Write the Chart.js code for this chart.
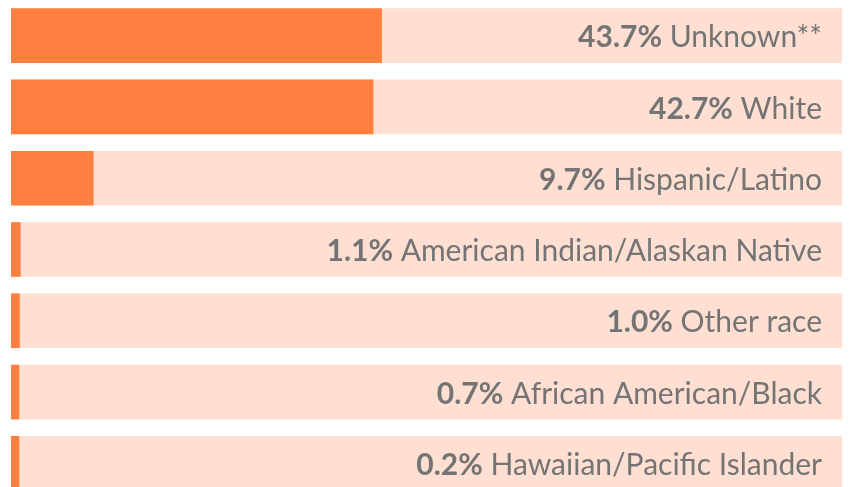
<!DOCTYPE html>
<html>
<head>
<meta charset="utf-8">
<script src="https://cdn.jsdelivr.net/npm/chart.js@4.4.0/dist/chart.umd.min.js"></script>
<style>
  html, body { margin: 0; padding: 0; background: #fff; overflow: hidden; }
  #wrap { width: 853px; height: 499px; position: relative; }
</style>
</head>
<body>
<div id="wrap"><canvas id="myChart"></canvas></div>
<script>
const categories = [
    'Unknown**',
    'White',
    'Hispanic/Latino',
    'American Indian/Alaskan Native',
    'Other race',
    'African American/Black',
    'Hawaiian/Pacific Islander'
];

// percentages
const valores = [43.7, 42.7, 9.7, 1.1, 1.0, 0.7, 0.2];
const percentLabels = ['43.7%', '42.7%', '9.7%', '1.1%', '1.0%', '0.7%', '0.2%'];

// full width of the background track
const trackMax = 98;
const track = categories.map(() => trackMax);

const FONT = "Lato, 'Open Sans', sans-serif";

// draws "xx.x% Category" right aligned inside each track
const labelPlugin = {
    id: 'rowLabels',
    afterDatasetsDraw(chart) {
        const ctx = chart.ctx;
        const meta = chart.getDatasetMeta(0);
        const right = chart.chartArea.right - 20;
        ctx.save();
        ctx.textBaseline = 'middle';
        ctx.fillStyle = '#747474';
        meta.data.forEach((bar, i) => {
            const y = bar.y + 2;
            ctx.font = '30px ' + FONT;
            const name = ' ' + categories[i];
            const wName = ctx.measureText(name).width;
            ctx.textAlign = 'right';
            ctx.fillText(name, right, y);
            ctx.font = 'bold 30px ' + FONT;
            ctx.fillText(percentLabels[i], right - wName, y);
        });
        ctx.restore();
    }
};

const data = {
    labels: categories,
    datasets: [{
        data: valores,
        backgroundColor: '#FF7F41',
        barThickness: 54,
        minBarLength: 8,
        grouped: false
    }, {
        data: track,
        backgroundColor: '#FEDFD1',
        barThickness: 54,
        grouped: false
    }]
};

const config = {
    type: 'bar',
    data: data,
    options: {
        indexAxis: 'y',
        responsive: true,
        maintainAspectRatio: false,
        animation: false,
        layout: { padding: { left: 11, right: 11, top: 0, bottom: 0 } },
        scales: {
            x: { display: false, min: 0, max: trackMax },
            y: { display: false }
        },
        plugins: {
            legend: { display: false },
            tooltip: { enabled: false }
        }
    },
    plugins: [labelPlugin]
};

const myChart = new Chart(document.getElementById('myChart'), config);
</script>
</body>
</html>
